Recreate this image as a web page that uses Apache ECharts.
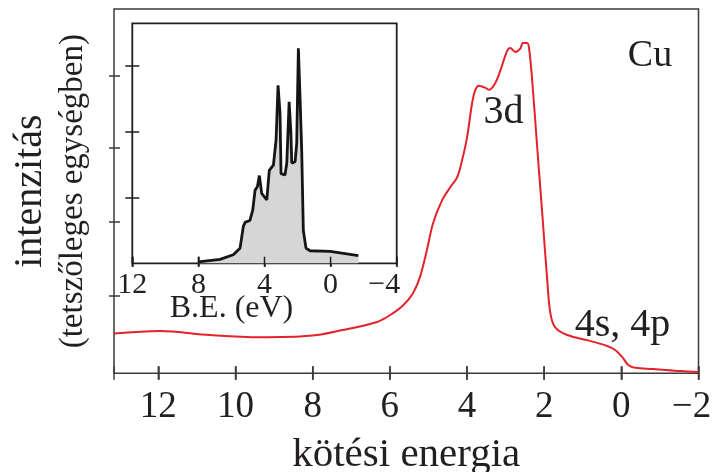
<!DOCTYPE html>
<html>
<head>
<meta charset="utf-8">
<script src="https://cdn.jsdelivr.net/npm/echarts@6/dist/echarts.min.js"></script>
<style>
  html, body { margin: 0; padding: 0; background: #fff; }
  #chart { width: 720px; height: 472px; }
</style>
</head>
<body>
<div id="chart"></div>
<script>
// Cu valence band: measured spectrum (red) and calculated DOS (inset)
const mainEnergy = [13.15, 11.96, 10.66, 9.37, 8.07, 7.22, 6.33, 5.99, 5.66, 5.40, 5.22, 5.04, 4.88, 4.65, 4.44, 4.26,
    4.13, 4.00, 3.87, 3.79, 3.69, 3.53, 3.43, 3.27, 3.14, 2.96, 2.88, 2.75, 2.62, 2.55, 2.44, 2.39, 2.31, 2.18, 2.05,
    1.92, 1.84, 1.72, 1.40, 0.89, 0.37, 0.16, -0.02, -0.18, -0.36, -0.83, -1.53, -2.0];
const mainIntensity = [10.9, 11.6, 10.5, 9.9, 10.3, 11.9, 14.1, 16.0, 18.6, 22.0, 26.4, 33.8, 41.2, 47.4, 51.0, 53.7,
    58.4, 64.7, 74.0, 77.6, 78.9, 78.4, 77.8, 79.6, 83.0, 88.5, 89.3, 88.2, 89.1, 90.7, 90.7, 89.1, 80.3, 61.9, 43.9,
    25.5, 16.5, 12.7, 10.5, 9.1, 7.5, 6.4, 4.5, 2.3, 1.5, 1.2, 0.6, 0.35];

const insetEnergy = [8.0, 6.69, 5.89, 5.48, 5.28, 5.18, 4.88, 4.71, 4.57, 4.43, 4.31, 4.17, 3.86, 3.71, 3.46, 3.30,
    3.18, 3.06, 3.00, 2.76, 2.65, 2.51, 2.41, 2.35, 2.15, 2.05, 1.95, 1.85, 1.75, 1.65, 1.49, 1.25, 0.03, -1.68];
const insetIntensity = [0.02, 0.06, 0.13, 0.23, 0.56, 0.62, 0.65, 0.81, 1.11, 1.16, 1.33, 1.06, 0.96, 1.41, 1.49, 1.87,
    2.70, 2.27, 1.36, 1.34, 1.52, 2.45, 2.02, 1.52, 1.54, 1.82, 3.26, 2.52, 1.72, 0.50, 0.23, 0.19, 0.18, 0.115];

const mainXTicks = [12, 10, 8, 6, 4, 2, 0, -2];
const mainYTicks = [21.4, 41.7, 62, 81.7];
const insetXTicks = [12, 8, 4, 0, -4];
const insetYTicks = [1, 2, 3];

const SERIF = '"Liberation Serif", "DejaVu Serif", serif';
const INK = '#231f20';
const FRAME = '#3a3a3a';
const INSET_FRAME = '#1e1e1e';

function minusLabel(v) {
    return v < 0 ? '{r|\u2212' + Math.abs(v) + '}' : String(v);
}

// tick-only x axis (inverted energy scale), ticks every `step` from min
function xTickAxis(gridIndex, min, max, step, inside, length, color) {
    return {
        gridIndex, position: 'bottom', type: 'value', min, max, interval: step, inverse: true,
        axisLine: { show: false, onZero: false }, splitLine: { show: false }, axisLabel: { show: false },
        axisTick: { show: true, inside, length, lineStyle: { color, width: 1.5 } }
    };
}

// tick-only y axis, used for the inner half of crossing ticks
function yTickAxis(gridIndex, min, max, values, length, color) {
    return {
        gridIndex, position: 'left', type: 'value', min, max,
        axisLine: { show: false, onZero: false }, splitLine: { show: false }, axisLabel: { show: false },
        axisTick: { show: true, inside: true, customValues: values, length, lineStyle: { color, width: 1.5 } }
    };
}

// crossing x ticks drawn on the bottom axis (y = 0) through the axis scale
function xTickSeries(xAxisIndex, yAxisIndex, ticks, up, down, color) {
    return {
        type: 'custom', xAxisIndex, yAxisIndex, silent: true, clip: false, z: 3,
        data: ticks.map(v => [v, 0]),
        renderItem: (params, api) => {
            const p = api.coord([api.value(0), api.value(1)]);
            return {
                type: 'line',
                shape: { x1: p[0], y1: p[1] - up, x2: p[0], y2: p[1] + down },
                style: { stroke: color, lineWidth: 1.5 }
            };
        }
    };
}

const chart = echarts.init(document.getElementById('chart'));

const option = {
    backgroundColor: '#fff',
    animation: false,
    grid: [
        { left: 114, top: 9, width: 584.5, height: 364.3, show: true, borderColor: FRAME, borderWidth: 1.5,
          backgroundColor: 'transparent', outerBoundsMode: 'none', containLabel: false },
        { left: 132.3, top: 23.3, width: 264.4, height: 240, show: true, borderColor: INSET_FRAME, borderWidth: 1.8,
          backgroundColor: '#fff', outerBoundsMode: 'none', containLabel: false }
    ],
    xAxis: [
        {
            gridIndex: 0, position: 'bottom', type: 'value', min: -2, max: 13.15, inverse: true,
            axisLine: { show: false, onZero: false }, splitLine: { show: false }, axisTick: { show: false },
            axisLabel: {
                customValues: mainXTicks, formatter: minusLabel, margin: 15,
                fontFamily: SERIF, fontSize: 37, color: INK,
                rich: { r: { fontFamily: SERIF, fontSize: 37, color: INK, padding: [0, 14, 0, 0] } }
            },
            name: 'kötési energia', nameLocation: 'middle', nameGap: 61, nameMoveOverlap: false,
            nameTextStyle: { fontFamily: SERIF, fontSize: 41, color: INK }
        },
        xTickAxis(0, -2, 13.15, 2, true, 7, FRAME),
        xTickAxis(0, -2, 13.15, 2, false, 6.5, FRAME),
        {
            gridIndex: 1, position: 'bottom', type: 'value', min: -4, max: 12, inverse: true,
            axisLine: { show: false, onZero: false }, splitLine: { show: false }, axisTick: { show: false },
            axisLabel: {
                customValues: insetXTicks, formatter: minusLabel, margin: 7,
                fontFamily: SERIF, fontSize: 30, color: INK,
                rich: { r: { fontFamily: SERIF, fontSize: 30, color: INK, padding: [0, 25, 0, 0] } }
            }
        },
        xTickAxis(1, -4, 12, 4, true, 6.6, INSET_FRAME),
        xTickAxis(1, -4, 12, 4, false, 3.5, INSET_FRAME)
    ],
    yAxis: [
        {
            gridIndex: 0, position: 'left', type: 'value', min: 0, max: 100,
            axisLine: { show: false, onZero: false }, splitLine: { show: false }, axisLabel: { show: false },
            axisTick: { show: true, customValues: mainYTicks, length: 5, lineStyle: { color: FRAME, width: 1.5 } },
            name: '{a|intenzitás}\n{b|(tetszőleges egységben)}',
            nameLocation: 'middle', nameRotate: 90, nameGap: 22, nameMoveOverlap: false,
            nameTextStyle: {
                fontFamily: SERIF, color: INK, align: 'center',
                rich: {
                    a: { fontFamily: SERIF, fontSize: 40, lineHeight: 48, color: INK },
                    b: { fontFamily: SERIF, fontSize: 33, lineHeight: 38, color: INK }
                }
            }
        },
        yTickAxis(0, 0, 100, mainYTicks, 6, FRAME),
        {
            gridIndex: 1, position: 'left', type: 'value', min: 0, max: 3.64,
            axisLine: { show: false, onZero: false }, splitLine: { show: false }, axisLabel: { show: false },
            axisTick: { show: true, customValues: insetYTicks, length: 7, lineStyle: { color: INSET_FRAME, width: 1.5 } }
        },
        yTickAxis(1, 0, 3.64, insetYTicks, 7, INSET_FRAME)
    ],
    series: [
        {
            type: 'line', xAxisIndex: 0, yAxisIndex: 0,
            data: mainEnergy.map((e, i) => [e, mainIntensity[i]]),
            showSymbol: false, smooth: 0.35,
            lineStyle: { color: '#e3222a', width: 2 }
        },
        {
            type: 'line', xAxisIndex: 3, yAxisIndex: 2,
            data: insetEnergy.map((e, i) => [e, insetIntensity[i]]),
            showSymbol: false, smooth: false,
            lineStyle: { color: '#151515', width: 2.8 },
            areaStyle: { color: '#d6d6d6', opacity: 1 }
        },
        xTickSeries(0, 0, mainXTicks, 7, 6.5, FRAME),
        xTickSeries(3, 2, insetXTicks, 6.6, 3.5, INSET_FRAME)
    ],
    graphic: [
        { type: 'text', x: 650, y: 56, style: { text: 'Cu', font: '38px ' + SERIF, fill: INK, align: 'center', verticalAlign: 'middle' } },
        { type: 'text', x: 503.5, y: 112, style: { text: '3d', font: '40px ' + SERIF, fill: INK, align: 'center', verticalAlign: 'middle' } },
        { type: 'text', x: 622.5, y: 325, style: { text: '4s, 4p', font: '40px ' + SERIF, fill: INK, align: 'center', verticalAlign: 'middle' } },
        { type: 'text', x: 231.5, y: 309, style: { text: 'B.E. (eV)', font: '32px ' + SERIF, fill: INK, align: 'center', verticalAlign: 'middle' } }
    ]
};

chart.setOption(option);
</script>
</body>
</html>
